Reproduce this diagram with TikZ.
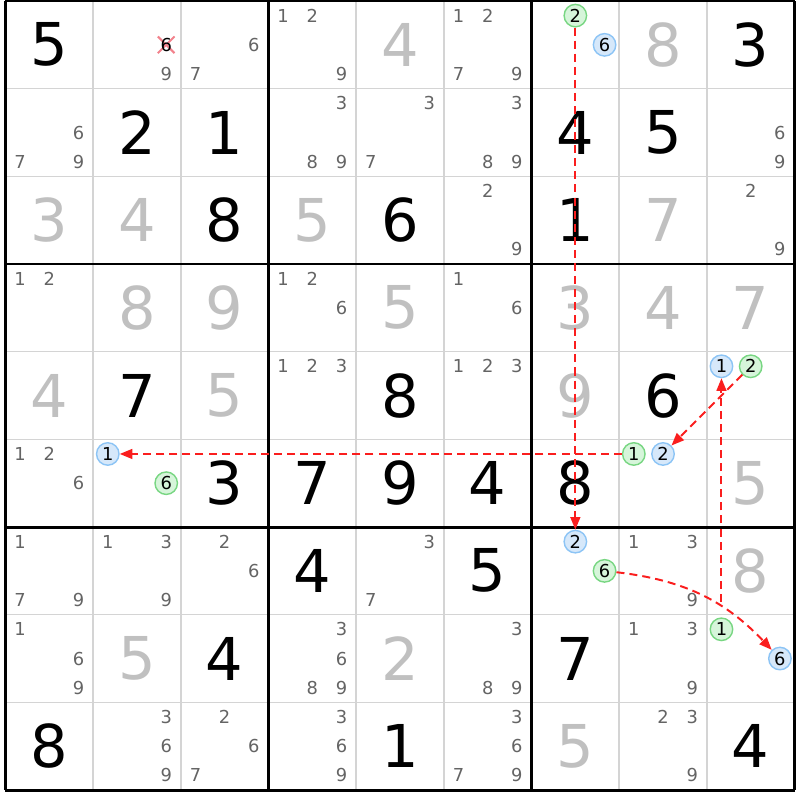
\documentclass[tikz,border=0pt]{standalone}
\usepackage{fontspec}
\setmainfont{DejaVu Sans}
\usetikzlibrary{
  arrows.meta
  , calc
}
\definecolor{solvedgrey}{RGB}{192,192,192}
\definecolor{pencilgrey}{RGB}{100,100,100}
\definecolor{gridgrey}{RGB}{212,212,212}
\definecolor{ringgreen}{RGB}{120,214,130}
\definecolor{fillgreen}{RGB}{214,245,218}
\definecolor{ringblue}{RGB}{140,196,245}
\definecolor{fillblue}{RGB}{214,232,250}
\definecolor{linkred}{RGB}{250,30,30}
\definecolor{crossred}{RGB}{242,130,140}

\begin{document}
\begin{tikzpicture}[x=2.19175cm, y=-2.19175cm,
    given/.style={font=\fontsize{42}{42}\selectfont, inner sep=0pt},
    solved/.style={given, text=solvedgrey},
    pencil/.style={font=\fontsize{12.7}{13}\selectfont, text=pencilgrey, inner sep=0pt},
    gring/.style={circle, draw=ringgreen, fill=fillgreen, line width=1pt,
      minimum size=16pt, inner sep=0pt, font=\fontsize{12.7}{13}\selectfont},
    bring/.style={gring, draw=ringblue, fill=fillblue},
    link/.style={draw=linkred, line width=1.4pt, dash pattern=on 5.7pt off 3.6pt,
      -{Triangle[length=9pt,width=7pt]}}]
  \useasboundingbox (-0.0627,-0.0114) rectangle (9.0623,9.1137);

  % grid
  \foreach \i in {1,2,4,5,7,8}
    \draw [gridgrey, line width=1pt] (\i,0) -- (\i,9) (0,\i) -- (9,\i);
  \foreach \i in {0,3,6,9}
    \draw [black, line width=2.1pt] (\i,0) -- (\i,9) (0,\i) -- (9,\i);

  % placed digits
  \foreach \r/\c/\d in {1/1/5, 1/9/3, 2/2/2, 2/3/1, 2/7/4, 2/8/5, 3/3/8, 3/5/6,
      3/7/1, 5/2/7, 5/5/8, 5/8/6, 6/3/3, 6/4/7, 6/5/9, 6/6/4, 6/7/8, 7/4/4,
      7/6/5, 8/3/4, 8/7/7, 9/1/8, 9/5/1, 9/9/4}
    \node [given] (v\r\c) at (\c-0.5,\r-0.5) {\d};
  \foreach \r/\c/\d in {1/5/4, 1/8/8, 3/1/3, 3/2/4, 3/4/5, 3/8/7, 4/2/8, 4/3/9,
      4/5/5, 4/7/3, 4/8/4, 4/9/7, 5/1/4, 5/3/5, 5/7/9, 6/9/5, 7/9/8, 8/2/5,
      8/5/2, 9/7/5}
    \node [solved] (v\r\c) at (\c-0.5,\r-0.5) {\d};

  % candidates
  \foreach \r/\c/\d in {1/2/9, 1/3/6, 1/3/7, 1/4/1, 1/4/2, 1/4/9, 1/6/1, 1/6/2,
      1/6/7, 1/6/9, 2/1/6, 2/1/7, 2/1/9, 2/4/3, 2/4/8, 2/4/9, 2/5/3, 2/5/7,
      2/6/3, 2/6/8, 2/6/9, 2/9/6, 2/9/9, 3/6/2, 3/6/9, 3/9/2, 3/9/9, 4/1/1,
      4/1/2, 4/4/1, 4/4/2, 4/4/6, 4/6/1, 4/6/6, 5/4/1, 5/4/2, 5/4/3, 5/6/1,
      5/6/2, 5/6/3, 6/1/1, 6/1/2, 6/1/6, 7/1/1, 7/1/7, 7/1/9, 7/2/1, 7/2/3,
      7/2/9, 7/3/2, 7/3/6, 7/5/3, 7/5/7, 7/8/1, 7/8/3, 7/8/9, 8/1/1, 8/1/6,
      8/1/9, 8/4/3, 8/4/6, 8/4/8, 8/4/9, 8/6/3, 8/6/8, 8/6/9, 8/8/1, 8/8/3,
      8/8/9, 9/2/3, 9/2/6, 9/2/9, 9/3/2, 9/3/6, 9/3/7, 9/4/3, 9/4/6, 9/4/9,
      9/6/3, 9/6/6, 9/6/7, 9/6/9, 9/8/2, 9/8/3, 9/8/9}
    \node [pencil] (p\r\c\d)
      at ({\c-1+(mod(\d-1,3)+0.5)/3},{\r-1+(floor((\d-1)/3)+0.5)/3}) {\d};

  % eliminated candidate
  \coordinate (X) at (1.8333,0.5);
  \draw [crossred, line width=1.4pt] ($(X)+(-0.095,-0.095)$) -- ($(X)+(0.095,0.095)$)
    ($(X)+(-0.095,0.095)$) -- ($(X)+(0.095,-0.095)$);
  \node [pencil, text=black] (p126) at (X) {6};

  % chain
  \foreach \r/\c/\d/\k in {1/7/2/g, 1/7/6/b, 7/7/2/b, 7/7/6/g, 8/9/1/g, 8/9/6/b,
      5/9/1/b, 5/9/2/g, 6/8/1/g, 6/8/2/b, 6/2/1/b, 6/2/6/g}
    \node [\k ring] (\k\r\c)
      at ({\c-1+(mod(\d-1,3)+0.5)/3},{\r-1+(floor((\d-1)/3)+0.5)/3}) {\d};

  \draw [link] (g17) -- (b77);
  \draw [link] (g77) to[bend left=20] (b89);
  \draw [link, shorten <=11pt] (g89) -- (b59);
  \draw [link] (g59) -- (b68);
  \draw [link] (g68) -- (b62);
\end{tikzpicture}
\end{document}
